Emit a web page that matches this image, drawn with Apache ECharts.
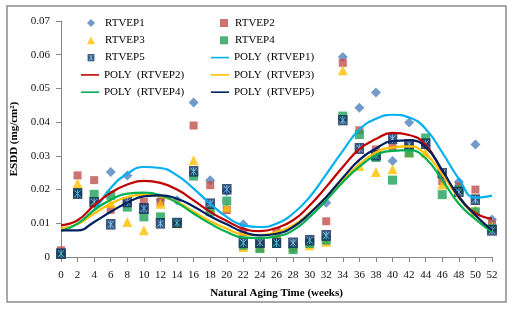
<!DOCTYPE html>
<html>
<head>
<meta charset="utf-8">
<script src="https://cdn.jsdelivr.net/npm/echarts@6/dist/echarts.min.js"></script>
<style>
  html, body { margin: 0; padding: 0; background: #fff; }
  #chart { width: 518px; height: 309px; }
</style>
</head>
<body>
<div id="chart"></div>
<script>
// weeks of natural aging
const weeks = [0, 2, 4, 6, 8, 10, 12, 14, 16, 18, 20, 22, 24, 26, 28, 30, 32, 34, 36, 38, 40, 42, 44, 46, 48, 50, 52];

// measured ESDD (mg/cm2)
const rtvep1 = [0.001, 0.019, 0.0163, 0.0252, 0.0242, 0.0145, 0.017, 0.0168, 0.0458, 0.0228, 0.0195, 0.0097, 0.004, 0.0045, 0.0025, 0.005, 0.0161, 0.0593, 0.0443, 0.0488, 0.0285, 0.0399, 0.033, 0.024, 0.0223, 0.0334, 0.0111];
const rtvep2 = [0.002, 0.0242, 0.0228, 0.014, 0.016, 0.0163, 0.0163, 0.0098, 0.039, 0.0213, 0.0139, 0.0074, 0.004, 0.0075, 0.003, 0.0045, 0.0106, 0.0576, 0.0376, 0.0319, 0.0325, 0.033, 0.034, 0.0225, 0.021, 0.020, 0.0099];
const rtvep3 = [0.001, 0.0218, 0.016, 0.016, 0.0104, 0.0079, 0.0158, 0.010, 0.0287, 0.0145, 0.0148, 0.003, 0.003, 0.0068, 0.003, 0.0035, 0.0045, 0.0554, 0.027, 0.0252, 0.026, 0.031, 0.0309, 0.0215, 0.020, 0.014, 0.009];
const rtvep4 = [0.001, 0.019, 0.0186, 0.0183, 0.0148, 0.0119, 0.0119, 0.010, 0.024, 0.0134, 0.0166, 0.0035, 0.0025, 0.004, 0.0022, 0.004, 0.005, 0.0418, 0.0363, 0.0295, 0.0228, 0.0309, 0.0353, 0.0185, 0.020, 0.0134, 0.0085];
const rtvep5 = [0.001, 0.0188, 0.0163, 0.0097, 0.0163, 0.0144, 0.010, 0.0101, 0.0254, 0.0158, 0.0201, 0.0042, 0.0043, 0.0042, 0.0042, 0.005, 0.0064, 0.0406, 0.0322, 0.0302, 0.0351, 0.0334, 0.0336, 0.0249, 0.0193, 0.017, 0.0079];

// polynomial trend lines at the same weeks
const poly1 = [0.0085, 0.0098, 0.014, 0.0205, 0.0247, 0.0267, 0.0264, 0.0242, 0.0203, 0.0158, 0.0119, 0.0094, 0.0089, 0.0099, 0.0129, 0.0178, 0.0245, 0.0315, 0.0378, 0.041, 0.0422, 0.0414, 0.038, 0.031, 0.0232, 0.0176, 0.0182];
const poly2 = [0.0094, 0.0109, 0.0153, 0.019, 0.0215, 0.0226, 0.022, 0.020, 0.0168, 0.0134, 0.0107, 0.0084, 0.0077, 0.0086, 0.0109, 0.0153, 0.0208, 0.0267, 0.032, 0.035, 0.0368, 0.0362, 0.0332, 0.0255, 0.018, 0.013, 0.0114];
const poly3 = [0.0084, 0.0097, 0.0129, 0.0158, 0.0178, 0.0185, 0.018, 0.0163, 0.0134, 0.0106, 0.0084, 0.0067, 0.0065, 0.0074, 0.0094, 0.0131, 0.0176, 0.0228, 0.0275, 0.031, 0.0325, 0.0328, 0.0305, 0.0245, 0.0175, 0.0122, 0.008];
const poly4 = [0.0077, 0.0099, 0.0139, 0.017, 0.0188, 0.0191, 0.0183, 0.0161, 0.0129, 0.0099, 0.0074, 0.0058, 0.0056, 0.0061, 0.0079, 0.0119, 0.0168, 0.0222, 0.0268, 0.0302, 0.0315, 0.0317, 0.0292, 0.0228, 0.0158, 0.0112, 0.0074];
const poly5 = [0.0079, 0.0079, 0.0104, 0.0134, 0.0161, 0.018, 0.0183, 0.0173, 0.015, 0.0121, 0.0097, 0.0074, 0.0064, 0.0069, 0.0089, 0.0129, 0.0178, 0.0235, 0.0288, 0.0322, 0.0344, 0.0346, 0.0326, 0.0257, 0.0178, 0.0124, 0.0079];

const font = 'Liberation Serif';

// navy square with light blue star, like the excel marker
const starSvg = "<svg xmlns='http://www.w3.org/2000/svg' width='10' height='11' viewBox='0 0 10 11'>" +
  "<rect width='10' height='11' fill='#0E2B5C'/>" +
  "<path d='M2 2L8 9M8 2L2 9M5 1.5V9.5' stroke='#5AB4E6' stroke-width='1'/></svg>";
const starIcon = 'image://data:image/svg+xml;utf8,' + encodeURIComponent(starSvg);

function pairs(arr) {
  return weeks.map(function (w, i) { return [w, arr[i]]; });
}

function scatter(name, arr, symbol, size, color) {
  return {
    name: name,
    type: 'scatter',
    data: pairs(arr),
    symbol: symbol,
    symbolSize: size,
    itemStyle: { color: color },
    emphasis: { disabled: true }
  };
}

function trend(name, arr, color) {
  return {
    name: name,
    type: 'line',
    data: pairs(arr),
    smooth: 0.5,
    symbol: 'none',
    lineStyle: { color: color, width: 2.2 },
    itemStyle: { color: color },
    emphasis: { disabled: true }
  };
}

// legend: two columns, markers and lines kept in separate blocks
const rowH = 17.3;
const legendTop = 12;
function markLegend(left, rowStart, names, pad) {
  return {
    orient: 'vertical', left: left, top: legendTop + rowStart * rowH,
    itemWidth: 8, itemHeight: 8, itemGap: rowH - 12,
    textStyle: { fontFamily: font, fontSize: 11, color: '#000', lineHeight: 12, padding: [0, 0, 0, pad] },
    selectedMode: false,
    data: names
  };
}
function lineLegend(left, rowStart, names, pad) {
  return {
    orient: 'vertical', left: left, top: legendTop + rowStart * rowH,
    itemWidth: 18, itemHeight: 12, itemGap: rowH - 12,
    textStyle: { fontFamily: font, fontSize: 11, color: '#000', lineHeight: 12, padding: [0, 0, 0, pad] },
    selectedMode: false,
    data: names.map(function (n) { return { name: n, icon: 'path://M0,5.2H18V6.8H0Z' }; })
  };
}

const chart = echarts.init(document.getElementById('chart'));

chart.setOption({
  animation: false,
  textStyle: { fontFamily: font },
  grid: { left: 61, right: 26, top: 21, bottom: 52 },
  legend: [
    markLegend(82, 0, ['RTVEP1', 'RTVEP3', 'RTVEP5'], 5),
    lineLegend(76, 3, ['POLY  (RTVEP2)', 'POLY  (RTVEP4)'], 0),
    markLegend(215, 0, ['RTVEP2', 'RTVEP4'], 2),
    lineLegend(206, 2, ['POLY  (RTVEP1)', 'POLY  (RTVEP3)', 'POLY  (RTVEP5)'], 0)
  ],
  xAxis: {
    type: 'value',
    min: 0,
    max: 52,
    interval: 2,
    name: 'Natural Aging Time (weeks)',
    nameLocation: 'middle',
    nameGap: 31,
    nameTextStyle: { fontFamily: font, fontSize: 11, fontWeight: 'bold', color: '#000' },
    axisLine: { lineStyle: { color: '#868686', width: 1 } },
    axisTick: { length: 5, lineStyle: { color: '#868686' } },
    axisLabel: { margin: 13, fontFamily: font, fontSize: 11, color: '#111' },
    splitLine: { show: false }
  },
  yAxis: {
    type: 'value',
    min: 0,
    max: 0.07,
    interval: 0.01,
    name: 'ESDD (mg/cm²)',
    nameLocation: 'middle',
    nameGap: 38,
    nameTextStyle: { fontFamily: font, fontSize: 11, fontWeight: 'bold', color: '#000' },
    axisLine: { show: true, lineStyle: { color: '#868686', width: 1 } },
    axisTick: { show: true, length: 5, lineStyle: { color: '#868686' } },
    axisLabel: { margin: 11, fontFamily: font, fontSize: 11, color: '#111' },
    splitLine: { show: false }
  },
  graphic: [{
    type: 'rect',
    shape: { x: 7, y: 6, width: 499, height: 296 },
    style: { fill: 'none', stroke: '#8c8c8c', lineWidth: 1.5 },
    silent: true
  }],
  series: [
    scatter('RTVEP1', rtvep1, 'diamond', 10, '#4F81BD'),
    scatter('RTVEP2', rtvep2, 'rect', 8, '#C0504D'),
    scatter('RTVEP3', rtvep3, 'triangle', 10, '#FFC000'),
    scatter('RTVEP4', rtvep4, 'rect', 9, '#1FA05A'),
    scatter('RTVEP5', rtvep5, starIcon, [10, 11], '#0E2B5C'),
    trend('POLY  (RTVEP1)', poly1, '#00B0F0'),
    trend('POLY  (RTVEP2)', poly2, '#C00000'),
    trend('POLY  (RTVEP3)', poly3, '#FFC000'),
    trend('POLY  (RTVEP4)', poly4, '#00B050'),
    trend('POLY  (RTVEP5)', poly5, '#002060')
  ]
});
</script>
</body>
</html>
